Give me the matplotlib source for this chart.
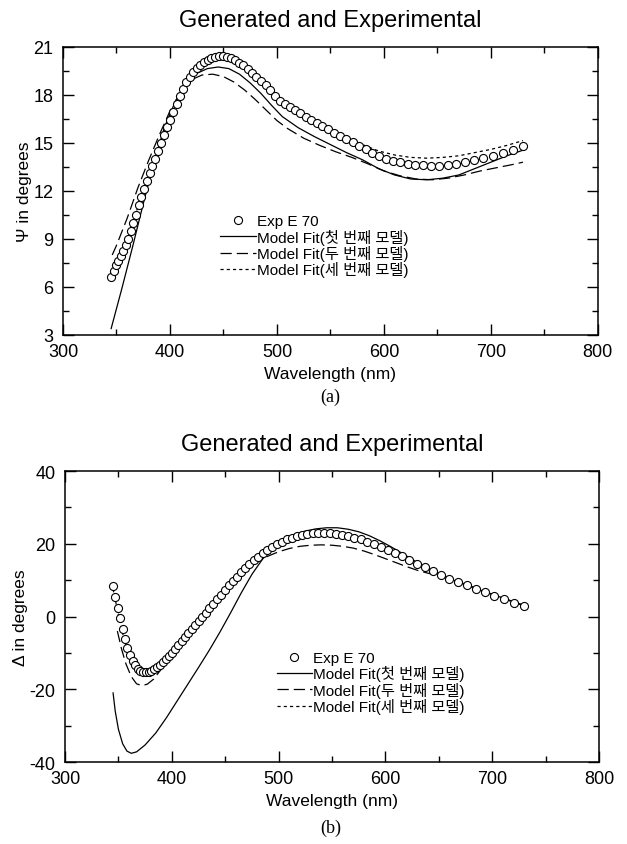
import matplotlib
matplotlib.use("Agg")
import matplotlib.pyplot as plt
from matplotlib.ticker import MultipleLocator

# -----------------------
# DATA
# -----------------------
# experimental points (Exp E 70)
wl_exp = [345.0, 347.2, 349.4, 351.6, 353.9, 356.2, 358.5, 360.9, 363.3, 365.7,
          368.1, 370.6, 373.1, 375.7, 378.3, 380.9, 383.5, 386.2, 389.0, 391.7,
          394.6, 397.4, 400.3, 403.2, 406.2, 409.2, 412.3, 415.4, 418.6, 421.8,
          425.1, 428.4, 431.7, 435.2, 438.6, 442.2, 445.8, 449.4, 453.1, 456.9,
          460.7, 464.6, 468.5, 472.6, 476.7, 480.8, 485.1, 489.4, 493.8, 498.3,
          502.8, 507.5, 512.2, 517.0, 521.9, 526.9, 532.0, 537.2, 542.5, 547.9,
          553.5, 559.1, 564.8, 570.7, 576.7, 582.8, 589.1, 595.4, 602.0, 608.6,
          615.4, 622.4, 629.5, 636.8, 644.3, 651.9, 659.8, 667.8, 676.0, 684.4,
          693.0, 701.9, 711.0, 720.3, 729.8]

psi_exp = [6.6, 7.0, 7.35, 7.65, 7.95, 8.25, 8.6, 9.0, 9.5, 10.0,
           10.5, 11.1, 11.6, 12.1, 12.6, 13.1, 13.55, 14.0, 14.5, 15.0,
           15.5, 16.0, 16.45, 16.95, 17.45, 17.95, 18.4, 18.8, 19.15, 19.45,
           19.7, 19.9, 20.05, 20.2, 20.3, 20.4, 20.45, 20.45, 20.4, 20.3,
           20.2, 20.0, 19.85, 19.65, 19.4, 19.15, 18.9, 18.6, 18.3, 17.95,
           17.65, 17.45, 17.25, 17.05, 16.85, 16.65, 16.45, 16.25, 16.05, 15.85,
           15.65, 15.45, 15.25, 15.05, 14.8, 14.6, 14.4, 14.2, 14.0, 13.9,
           13.8, 13.7, 13.65, 13.6, 13.58, 13.58, 13.62, 13.7, 13.8, 13.92,
           14.05, 14.2, 14.35, 14.55, 14.8]

delta_exp = [8.4, 5.3, 2.4, -0.5, -3.4, -6.2, -8.6, -10.6, -12.2, -13.4,
             -14.3, -14.9, -15.2, -15.3, -15.2, -14.9, -14.5, -13.9, -13.2, -12.5,
             -11.7, -10.8, -9.9, -8.9, -7.9, -6.8, -5.7, -4.6, -3.5, -2.4,
             -1.2, -0.1, 1.1, 2.3, 3.5, 4.7, 6.0, 7.3, 8.6, 9.8,
             11.0, 12.2, 13.4, 14.5, 15.5, 16.5, 17.5, 18.4, 19.2, 19.9,
             20.6, 21.2, 21.7, 22.1, 22.45, 22.7, 22.9, 23.0, 23.0, 22.9,
             22.7, 22.45, 22.1, 21.7, 21.2, 20.6, 19.9, 19.1, 18.3, 17.5,
             16.6, 15.6, 14.5, 13.5, 12.4, 11.4, 10.4, 9.5, 8.6, 7.6,
             6.7, 5.7, 4.8, 3.8, 2.9]

# Psi model fits
wl_psi_m1 = [345, 355, 365, 375, 385, 395, 405, 415, 425, 435, 445, 455, 465, 475,
             485, 495, 505, 520, 535, 550, 565, 580, 595, 610, 625, 640, 655, 670,
             685, 700, 715, 730]
psi_m1 = [3.4, 5.9, 8.5, 11.2, 13.8, 16.0, 17.6, 18.7, 19.35, 19.65, 19.75, 19.65,
          19.3, 18.75, 18.1, 17.35, 16.65, 15.95, 15.4, 14.9, 14.4, 13.95, 13.4,
          13.0, 12.75, 12.7, 12.8, 13.0, 13.4, 13.8, 14.2, 14.55]

wl_psi_m2 = [346, 350, 360, 370, 380, 390, 400, 410, 420, 430, 440, 450, 460, 470,
             480, 490, 500, 510, 525, 540, 555, 570, 585, 600, 615, 630, 645, 660,
             675, 690, 705, 720, 730]
psi_m2 = [8.0, 8.6, 10.3, 12.2, 13.9, 15.5, 17.0, 18.2, 18.95, 19.25, 19.3, 19.15,
          18.8, 18.3, 17.7, 17.05, 16.4, 15.9, 15.3, 14.85, 14.45, 14.1, 13.7, 13.25,
          12.95, 12.75, 12.7, 12.8, 13.0, 13.25, 13.45, 13.65, 13.8]

wl_psi_m3 = [345, 355, 365, 375, 385, 395, 405, 415, 425, 435, 445, 455, 465, 475,
             485, 495, 505, 520, 535, 550, 565, 580, 595, 610, 625, 640, 655, 670,
             685, 700, 715, 730]
psi_m3 = [6.8, 8.2, 10.0, 12.0, 13.9, 15.6, 17.3, 18.7, 19.6, 20.1, 20.3, 20.2,
          19.9, 19.4, 18.8, 18.1, 17.5, 16.9, 16.35, 15.85, 15.35, 14.9, 14.5,
          14.25, 14.1, 14.05, 14.1, 14.2, 14.4, 14.6, 14.85, 15.15]

# Delta model fits
wl_del_m1 = [345, 347, 350, 354, 358, 362, 367, 375, 385, 395, 405, 415, 425, 435,
             445, 455, 465, 475, 485, 495, 505, 515, 525, 535, 545, 555, 565, 575,
             585, 595, 605, 615, 625, 635, 645, 655, 665, 675, 685, 695, 705, 715, 730]
delta_m1 = [-21.0, -26.0, -31.0, -35.0, -37.0, -37.6, -37.2, -35.3, -32.0, -27.8,
            -23.2, -18.6, -14.0, -9.3, -4.3, 1.0, 6.5, 11.6, 15.8, 19.0, 21.2, 22.6,
            23.5, 24.1, 24.4, 24.4, 24.0, 23.3, 22.2, 20.8, 19.2, 17.5, 15.7, 14.0,
            12.5, 11.1, 9.8, 8.7, 7.6, 6.6, 5.6, 4.6, 3.0]

wl_del_m2 = [349, 353, 357, 362, 367, 372, 377, 383, 390, 400, 410, 420, 430, 440,
             450, 460, 470, 480, 490, 500, 510, 520, 530, 540, 550, 560, 570, 580,
             590, 600, 610, 620, 630, 640, 650, 660, 670, 680, 690, 700, 710, 720, 730]
delta_m2 = [-4.0, -9.0, -13.0, -16.5, -18.5, -19.0, -18.6, -17.2, -14.5, -10.5,
            -7.0, -3.3, 0.3, 3.8, 7.1, 10.0, 13.0, 15.0, 16.6, 17.8, 18.7, 19.3,
            19.6, 19.7, 19.6, 19.3, 18.8, 18.0, 17.0, 15.9, 14.8, 13.7, 12.7, 11.9,
            11.3, 10.3, 9.3, 8.3, 7.2, 6.1, 5.0, 4.0, 3.0]

wl_del_m3 = [345, 350, 355, 360, 365, 370, 375, 380, 390, 400, 410, 420, 430, 440,
             450, 460, 470, 480, 490, 500, 510, 520, 530, 540, 550, 560, 570, 580,
             590, 600, 610, 620, 630, 640, 650, 660, 670, 680, 690, 700, 710, 720, 730]
delta_m3 = [7.5, 0.5, -6.0, -10.8, -13.6, -15.0, -15.4, -15.1, -13.2, -10.0, -6.5,
            -2.9, 0.7, 4.3, 7.8, 11.0, 14.0, 16.6, 18.8, 20.5, 21.7, 22.5, 22.9, 23.1,
            23.0, 22.6, 21.9, 21.0, 19.9, 18.6, 17.3, 15.9, 14.5, 13.1, 11.7, 10.5,
            9.4, 8.3, 7.2, 6.1, 5.0, 4.0, 3.0]

labels = ['Exp E 70',
          'Model Fit(첫 번째 모델)',
          'Model Fit(두 번째 모델)',
          'Model Fit(세 번째 모델)']

TITLE = 'Generated and Experimental'
SANS = ['Liberation Sans', 'Noto Sans CJK KR', 'DejaVu Sans']

plt.rcParams['font.family'] = SANS
plt.rcParams['axes.linewidth'] = 1.1
plt.rcParams['axes.unicode_minus'] = False

# -----------------------
# FIGURE
# -----------------------
fig = plt.figure(figsize=(6.27, 8.45), dpi=100)
ax1 = fig.add_axes([0.1005, 0.6024, 0.853, 0.3408])
ax2 = fig.add_axes([0.1037, 0.0970, 0.8517, 0.3444])


def draw_panel(ax, exp_y, fits, ylim, ymaj, ymin, ylabel, leg_anchor):
    ax.plot(wl_exp, exp_y, 'o', ms=5.8, mfc='white', mec='black', mew=0.8,
            ls='none', label=labels[0], zorder=3)
    styles = [dict(ls='-'),
              dict(ls=(0, (9, 4))),
              dict(ls=(0, (2.5, 2.5)))]
    for (wx, wy), st, lab in zip(fits, styles, labels[1:]):
        ax.plot(wx, wy, color='black', lw=0.9, label=lab, zorder=2, **st)

    ax.set_xlim(300, 800)
    ax.set_ylim(*ylim)
    ax.xaxis.set_major_locator(MultipleLocator(100))
    ax.xaxis.set_minor_locator(MultipleLocator(50))
    ax.yaxis.set_major_locator(MultipleLocator(ymaj))
    ax.yaxis.set_minor_locator(MultipleLocator(ymin))
    ax.tick_params(which='both', direction='in', top=True, right=True,
                   labelsize=13, width=1.0)
    ax.tick_params(which='major', length=8)
    ax.tick_params(which='minor', length=4)
    ax.tick_params(axis='x', pad=6)
    ax.tick_params(axis='y', pad=7)
    ax.set_xlabel('Wavelength (nm)', fontsize=12.5, labelpad=4)
    ax.set_ylabel(ylabel, fontsize=12.5, labelpad=1)
    ax.set_title(TITLE, fontsize=17, pad=15)

    leg = ax.legend(loc='upper left', bbox_to_anchor=leg_anchor, frameon=False,
                    prop=dict(family=SANS, size=11), handlelength=2.3,
                    handletextpad=0.1, labelspacing=0.02, borderaxespad=0)
    return leg


draw_panel(ax1, psi_exp,
           [(wl_psi_m1, psi_m1), (wl_psi_m2, psi_m2), (wl_psi_m3, psi_m3)],
           (3, 21), 3, 1.5, 'Ψ in degrees', (0.283, 0.44))
draw_panel(ax2, delta_exp,
           [(wl_del_m1, delta_m1), (wl_del_m2, delta_m2), (wl_del_m3, delta_m3)],
           (-40, 40), 20, 10, 'Δ in degrees', (0.385, 0.402))

fig.text(0.527, 0.530, '(a)', ha='center', va='center',
         family='Liberation Serif', fontsize=13)
fig.text(0.527, 0.020, '(b)', ha='center', va='center',
         family='Liberation Serif', fontsize=13)

fig.savefig('out.png', dpi=100)
